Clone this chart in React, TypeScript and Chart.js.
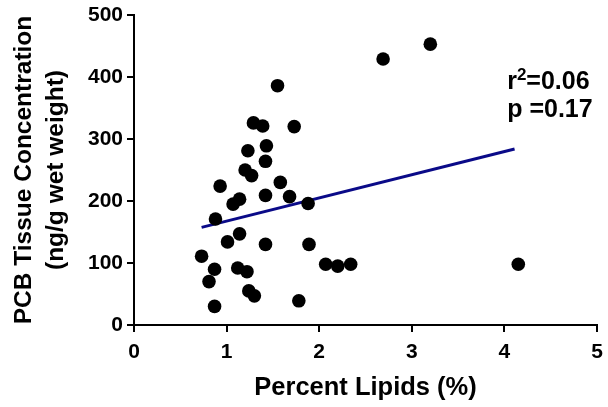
import React, { useEffect, useRef } from "react";
import { Chart, registerables } from "chart.js";

Chart.register(...registerables);

const lipids = [
  3.2, 2.69, 4.15,
  1.55, 1.29, 1.39, 1.73, 1.43, 1.23, 1.42, 1.2, 1.27, 0.93, 1.58, 1.14, 1.07, 1.42, 1.68, 1.88,
  0.88, 1.14, 1.01, 1.42, 1.89, 0.73, 0.87, 1.12, 1.22, 2.07, 2.2, 2.34, 0.81, 1.24, 1.3, 1.78, 0.87,
];
const pcb = [
  453, 429, 98,
  386, 326, 321, 320, 289, 281, 264, 250, 241, 224, 230, 203, 195, 209, 207, 196,
  171, 147, 134, 130, 130, 111, 90, 92, 86, 98, 95, 98, 70, 55, 47, 39, 30,
];
const fitX = [0.73, 4.11];
const fitY = [157.5, 284];
const xTicks = [0, 1, 2, 3, 4, 5];
const yTicks = [0, 100, 200, 300, 400, 500];
const statLines = [
  { pre: "r", sup: "2", post: "=0.06", x: 4.03, y: 381 },
  { pre: "p =0.17", sup: "", post: "", x: 4.03, y: 335 },
];

const FONT = "'Liberation Sans', Arial, Helvetica, sans-serif";

const statsPlugin = {
  id: "stats",
  afterDatasetsDraw(chart: any) {
    const ctx = chart.ctx;
    const xs = chart.scales.x;
    const ys = chart.scales.y;
    ctx.save();
    ctx.fillStyle = "#000";
    ctx.textBaseline = "alphabetic";
    ctx.textAlign = "left";
    statLines.forEach((l) => {
      let px = xs.getPixelForValue(l.x);
      const py = ys.getPixelForValue(l.y);
      ctx.font = `bold 25px ${FONT}`;
      ctx.fillText(l.pre, px, py);
      px += ctx.measureText(l.pre).width;
      if (l.sup) {
        ctx.font = `bold 17px ${FONT}`;
        ctx.fillText(l.sup, px, py - 9);
        px += ctx.measureText(l.sup).width;
      }
      if (l.post) {
        ctx.font = `bold 25px ${FONT}`;
        ctx.fillText(l.post, px, py);
      }
    });
    ctx.restore();
  },
};

export default function App() {
  const ref = useRef<HTMLCanvasElement>(null);
  useEffect(() => {
    if (!ref.current) return;
    const chart = new Chart(ref.current, {
      type: "scatter",
      data: {
        datasets: [
          {
            data: lipids.map((x, i) => ({ x, y: pcb[i] })),
            backgroundColor: "#000",
            borderWidth: 0,
            pointRadius: 6.8,
            order: 0,
          },
          {
            data: fitX.map((x, i) => ({ x, y: fitY[i] })),
            showLine: true,
            borderColor: "#0a0a88",
            borderWidth: 3,
            pointRadius: 0,
            order: 1,
          } as any,
        ],
      },
      options: {
        responsive: false,
        animation: false,
        layout: { padding: { left: 0, right: 11, top: 15, bottom: 0 } },
        plugins: { legend: { display: false }, tooltip: { enabled: false } },
        scales: {
          x: {
            type: "linear",
            min: 0,
            max: 5,
            afterBuildTicks: (s: any) => {
              s.ticks = xTicks.map((v) => ({ value: v }));
            },
            afterFit: (s: any) => {
              s.height = 82;
              s.paddingRight = 0;
              s.paddingLeft = 0;
            },
            border: { display: true, color: "#000", width: 2 },
            grid: { drawOnChartArea: false, drawTicks: true, tickLength: 7, color: "#000", lineWidth: 2 },
            ticks: { color: "#000", font: { family: FONT, size: 21, weight: "bold" }, padding: 8, maxRotation: 0 },
            title: {
              display: true,
              text: "Percent Lipids (%)",
              color: "#000",
              font: { family: FONT, size: 25.5, weight: "bold" },
              padding: { top: 0, bottom: 4 },
            },
          },
          y: {
            type: "linear",
            min: 0,
            max: 500,
            afterBuildTicks: (s: any) => {
              s.ticks = yTicks.map((v) => ({ value: v }));
            },
            afterFit: (s: any) => {
              s.width = 134;
              s.paddingTop = 0;
              s.paddingBottom = 0;
            },
            border: { display: true, color: "#000", width: 2 },
            grid: { drawOnChartArea: false, drawTicks: true, tickLength: 7, color: "#000", lineWidth: 2 },
            ticks: { color: "#000", font: { family: FONT, size: 21, weight: "bold" }, padding: 4 },
            title: {
              display: true,
              text: ["PCB Tissue Concentration", "(ng/g wet weight)"],
              color: "#000",
              font: { family: FONT, size: 24.5, weight: "bold", lineHeight: 1.3 },
              padding: { top: 8, bottom: 0 },
            },
          },
        },
      } as any,
      plugins: [statsPlugin],
    });
    return () => chart.destroy();
  }, []);
  return (
    <div style={{ position: "absolute", left: 0, top: 0, width: 608, height: 407, background: "#fff" }}>
      <canvas ref={ref} width={608} height={407} style={{ display: "block" }} />
    </div>
  );
}
